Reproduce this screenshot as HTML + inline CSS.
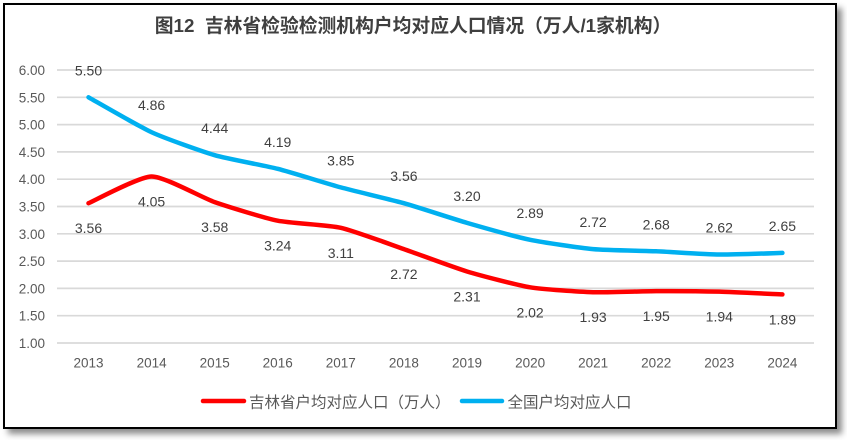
<!DOCTYPE html>
<html><head><meta charset="utf-8"><style>
html,body{margin:0;padding:0;background:#fff;}
body{width:847px;height:440px;position:relative;overflow:hidden;}
.frame{position:absolute;left:3px;top:3px;width:834px;height:426px;box-sizing:border-box;border:2px solid #000;background:#fff;box-shadow:5px 5px 6px rgba(0,0,0,0.45);}
svg{position:absolute;left:0;top:0;}
text{font-family:"Liberation Sans","Noto Sans CJK SC",sans-serif;}
</style></head><body>
<div class="frame"></div>
<svg width="847" height="440" viewBox="0 0 847 440" xmlns="http://www.w3.org/2000/svg">
<text x="413" y="32" text-anchor="middle" font-size="18.8" font-weight="bold" fill="#3f3f3f" style="white-space:pre" xml:space="preserve">图12  吉林省检验检测机构户均对应人口情况（万人/1家机构）</text>
<g stroke="#d9d9d9" stroke-width="1.7">
<line x1="57" y1="70" x2="814" y2="70"/>
<line x1="57" y1="97.3" x2="814" y2="97.3"/>
<line x1="57" y1="124.6" x2="814" y2="124.6"/>
<line x1="57" y1="151.9" x2="814" y2="151.9"/>
<line x1="57" y1="179.2" x2="814" y2="179.2"/>
<line x1="57" y1="206.5" x2="814" y2="206.5"/>
<line x1="57" y1="233.8" x2="814" y2="233.8"/>
<line x1="57" y1="261.1" x2="814" y2="261.1"/>
<line x1="57" y1="288.4" x2="814" y2="288.4"/>
<line x1="57" y1="315.7" x2="814" y2="315.7"/>
<line x1="57" y1="343" x2="814" y2="343"/>
</g>
<g font-size="13.5" fill="#595959" text-anchor="end">
<text x="45" y="75">6.00</text>
<text x="45" y="102.3">5.50</text>
<text x="45" y="129.6">5.00</text>
<text x="45" y="156.9">4.50</text>
<text x="45" y="184.2">4.00</text>
<text x="45" y="211.5">3.50</text>
<text x="45" y="238.8">3.00</text>
<text x="45" y="266.1">2.50</text>
<text x="45" y="293.4">2.00</text>
<text x="45" y="320.7">1.50</text>
<text x="45" y="348">1.00</text>
</g>
<g font-size="13.5" fill="#595959" text-anchor="middle">
<text x="88.5" y="367.5">2013</text>
<text x="151.6" y="367.5">2014</text>
<text x="214.7" y="367.5">2015</text>
<text x="277.7" y="367.5">2016</text>
<text x="340.8" y="367.5">2017</text>
<text x="403.9" y="367.5">2018</text>
<text x="467" y="367.5">2019</text>
<text x="530.1" y="367.5">2020</text>
<text x="593.1" y="367.5">2021</text>
<text x="656.2" y="367.5">2022</text>
<text x="719.3" y="367.5">2023</text>
<text x="782.4" y="367.5">2024</text>
</g>
<path fill="none" stroke="#00b0f0" stroke-width="4.5" stroke-linecap="round" stroke-linejoin="round"
d="M88.5,97.3 C94.81,100.79 138.98,126.45 151.6,132.24 C164.22,138.03 202.08,151.52 214.7,155.18 C227.32,158.84 265.08,165.61 277.7,168.83 C290.32,172.05 328.18,183.95 340.8,187.39 C353.42,190.83 391.28,199.67 403.9,203.22 C416.52,206.77 454.38,219.22 467,222.88 C479.62,226.54 517.48,237.19 530.1,239.81 C542.72,242.43 580.48,247.94 593.1,249.09 C605.72,250.24 643.58,250.72 656.2,251.27 C668.82,251.82 706.68,254.39 719.3,254.55 C731.92,254.71 776.09,253.07 782.4,252.91"/>
<path fill="none" stroke="#ff0000" stroke-width="4.5" stroke-linecap="round" stroke-linejoin="round"
d="M88.5,203.22 C94.81,200.54 138.98,176.58 151.6,176.47 C164.22,176.36 202.08,197.71 214.7,202.13 C227.32,206.55 265.08,218.13 277.7,220.7 C290.32,223.27 328.18,224.95 340.8,227.79 C353.42,230.63 391.28,244.72 403.9,249.09 C416.52,253.46 454.38,267.65 467,271.47 C479.62,275.29 517.48,285.23 530.1,287.31 C542.72,289.39 580.48,291.84 593.1,292.22 C605.72,292.6 643.58,291.18 656.2,291.13 C668.82,291.08 706.68,291.35 719.3,291.68 C731.92,292.01 776.09,294.14 782.4,294.41"/>
<g font-size="14" fill="#404040" text-anchor="middle">
<text x="88.5" y="75.3">5.50</text>
<text x="151.6" y="110.2">4.86</text>
<text x="214.7" y="133.2">4.44</text>
<text x="277.7" y="146.8">4.19</text>
<text x="340.8" y="165.4">3.85</text>
<text x="403.9" y="181.2">3.56</text>
<text x="467" y="200.9">3.20</text>
<text x="530.1" y="217.8">2.89</text>
<text x="593.1" y="227.1">2.72</text>
<text x="656.2" y="229.3">2.68</text>
<text x="719.3" y="232.5">2.62</text>
<text x="782.4" y="230.9">2.65</text>
<text x="88.5" y="233.2">3.56</text>
<text x="151.6" y="206.5">4.05</text>
<text x="214.7" y="232.1">3.58</text>
<text x="277.7" y="250.7">3.24</text>
<text x="340.8" y="257.8">3.11</text>
<text x="403.9" y="279.1">2.72</text>
<text x="467" y="301.5">2.31</text>
<text x="530.1" y="317.3">2.02</text>
<text x="593.1" y="322.2">1.93</text>
<text x="656.2" y="321.1">1.95</text>
<text x="719.3" y="321.7">1.94</text>
<text x="782.4" y="324.4">1.89</text>
</g>
<line x1="203" y1="401" x2="244" y2="401" stroke="#ff0000" stroke-width="4.5" stroke-linecap="round"/>
<text x="249" y="407.5" font-size="15.5" fill="#595959">吉林省户均对应人口（万人）</text>
<line x1="462" y1="401" x2="502" y2="401" stroke="#00b0f0" stroke-width="4.5" stroke-linecap="round"/>
<text x="507.5" y="407.5" font-size="15.5" fill="#595959">全国户均对应人口</text>
</svg>
</body></html>
